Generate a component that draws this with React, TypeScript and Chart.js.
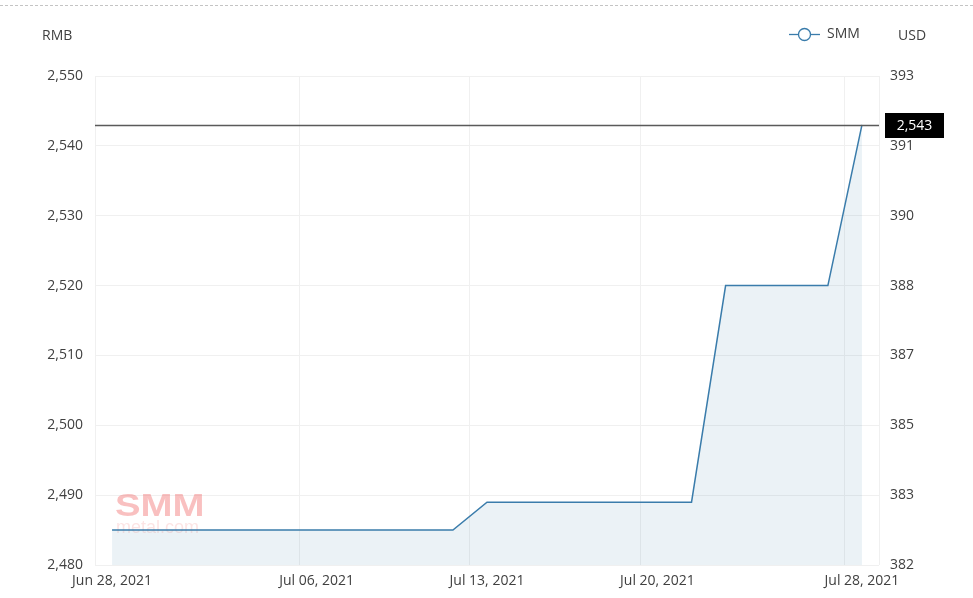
import React, { useEffect, useRef } from "react";
import { Chart, registerables } from "chart.js";

Chart.register(...registerables);

const categories = [
  "Jun 28, 2021", "Jun 29, 2021", "Jun 30, 2021", "Jul 01, 2021", "Jul 02, 2021",
  "Jul 05, 2021", "Jul 06, 2021", "Jul 07, 2021", "Jul 08, 2021", "Jul 09, 2021",
  "Jul 12, 2021", "Jul 13, 2021", "Jul 14, 2021", "Jul 15, 2021", "Jul 16, 2021",
  "Jul 19, 2021", "Jul 20, 2021", "Jul 21, 2021", "Jul 22, 2021", "Jul 23, 2021",
  "Jul 26, 2021", "Jul 27, 2021", "Jul 28, 2021",
];
const smmValues = [
  2485, 2485, 2485, 2485, 2485, 2485, 2485, 2485, 2485, 2485, 2485,
  2489, 2489, 2489, 2489, 2489, 2489, 2489,
  2520, 2520, 2520, 2520,
  2543,
];
const labelledIdx = [0, 6, 11, 16, 22];
const rmbTicks = [2480, 2490, 2500, 2510, 2520, 2530, 2540, 2550];
const usdTicks = ["382", "383", "385", "387", "388", "390", "391", "393"];
const lastValue = 2543;

const FONT = "'Open Sans', 'Noto Sans', sans-serif";
const LINE = "#3a7cab";
const TEXT = "#404040";

const decor = {
  id: "decor",
  beforeDatasetsDraw(chart: any) {
    const { ctx, chartArea } = chart;
    // watermark
    ctx.save();
    const wx = chartArea.left + 20;
    const by = chartArea.bottom - 49;
    ctx.fillStyle = "rgba(238,90,90,0.38)";
    ctx.font = `900 32px 'Liberation Sans', sans-serif`;
    ctx.textBaseline = "alphabetic";
    ctx.translate(wx, by);
    ctx.scale(1.2, 1);
    ctx.fillText("SMM", 0, 0);
    ctx.restore();
    ctx.save();
    ctx.fillStyle = "rgba(238,120,120,0.2)";
    ctx.font = `18px 'Liberation Sans', sans-serif`;
    ctx.textBaseline = "alphabetic";
    ctx.fillText("metal.com", wx + 1, by + 17);
    ctx.restore();
  },
  afterDatasetsDraw(chart: any) {
    const { ctx, chartArea } = chart;
    const y = chart.scales.y;
    const py = Math.round(y.getPixelForValue(lastValue)) + 0.5;
    ctx.save();
    ctx.strokeStyle = "#5a5a5a";
    ctx.lineWidth = 1.5;
    ctx.beginPath();
    ctx.moveTo(chartArea.left, py);
    ctx.lineTo(chartArea.right, py);
    ctx.stroke();
    // value box
    const bx = chartArea.right + 6;
    ctx.fillStyle = "#000";
    ctx.fillRect(bx, py - 12.5, 59, 25);
    ctx.fillStyle = "#fff";
    ctx.font = `14px ${FONT}`;
    ctx.textAlign = "center";
    ctx.textBaseline = "middle";
    ctx.fillText(lastValue.toLocaleString("en-US"), bx + 29.5, py + 0.5);
    ctx.restore();
  },
  afterDraw(chart: any) {
    const { ctx, width } = chart;
    ctx.save();
    // dashed top rule
    ctx.strokeStyle = "#c4c4c4";
    ctx.lineWidth = 1;
    ctx.setLineDash([3, 2]);
    ctx.beginPath();
    ctx.moveTo(0, 5.5);
    ctx.lineTo(width, 5.5);
    ctx.stroke();
    ctx.setLineDash([]);
    // unit titles
    ctx.fillStyle = TEXT;
    ctx.font = `14px ${FONT}`;
    ctx.textBaseline = "middle";
    ctx.textAlign = "left";
    ctx.fillText("RMB", 42, 36);
    ctx.fillText("USD", 898, 36);
    // legend
    ctx.strokeStyle = LINE;
    ctx.lineWidth = 1.3;
    ctx.beginPath();
    ctx.moveTo(789, 34.5);
    ctx.lineTo(820, 34.5);
    ctx.stroke();
    ctx.fillStyle = "#fff";
    ctx.beginPath();
    ctx.arc(804.5, 34.5, 6, 0, Math.PI * 2);
    ctx.fill();
    ctx.stroke();
    ctx.fillStyle = TEXT;
    ctx.fillText("SMM", 827, 34);
    ctx.restore();
  },
};

export default function App() {
  const ref = useRef<HTMLCanvasElement>(null);
  useEffect(() => {
    if (!ref.current) return;
    const gridIdx = [-0.5, ...labelledIdx.filter((i) => i > 0).map((i) => i - 0.5), categories.length - 0.5];
    const chart = new Chart(ref.current, {
      type: "line",
      data: {
        datasets: [
          {
            label: "SMM",
            data: smmValues.map((v, i) => ({ x: i, y: v })),
            borderColor: LINE,
            borderWidth: 1.5,
            backgroundColor: "rgba(58,124,171,0.1)",
            fill: "start",
            pointRadius: 0,
            tension: 0,
          },
        ],
      },
      options: {
        animation: false,
        responsive: true,
        maintainAspectRatio: false,
        layout: { padding: { top: 76, left: 0, right: 0, bottom: 0 } },
        plugins: { legend: { display: false }, tooltip: { enabled: false } },
        scales: {
          x: {
            type: "linear",
            position: "bottom",
            min: -0.5,
            max: categories.length - 0.5,
            afterBuildTicks: (axis: any) => {
              axis.ticks = labelledIdx.map((v) => ({ value: v }));
            },
            afterFit: (axis: any) => {
              axis.height = 33;
            },
            ticks: {
              autoSkip: false,
              maxRotation: 0,
              padding: 8,
              color: TEXT,
              font: { family: FONT, size: 14 },
              callback: (v: any) => categories[v as number] ?? "",
            },
            grid: { display: false, drawTicks: false },
            border: { display: false },
          },
          xg: {
            type: "linear",
            position: "bottom",
            min: -0.5,
            max: categories.length - 0.5,
            afterBuildTicks: (axis: any) => {
              axis.ticks = gridIdx.map((v) => ({ value: v }));
            },
            afterFit: (axis: any) => {
              axis.height = 0;
            },
            ticks: { display: false },
            grid: { color: "#f0f0f0", lineWidth: 1, drawTicks: false },
            border: { display: false },
          },
          y: {
            type: "linear",
            position: "left",
            min: rmbTicks[0],
            max: rmbTicks[rmbTicks.length - 1],
            afterBuildTicks: (axis: any) => {
              axis.ticks = rmbTicks.map((v) => ({ value: v }));
            },
            afterFit: (axis: any) => {
              axis.width = 95;
            },
            ticks: {
              padding: 12,
              color: TEXT,
              font: { family: FONT, size: 14 },
              callback: (v: any) => Number(v).toLocaleString("en-US"),
            },
            grid: { color: "#f0f0f0", drawTicks: false },
            border: { display: false },
          },
          y2: {
            type: "linear",
            position: "right",
            min: rmbTicks[0],
            max: rmbTicks[rmbTicks.length - 1],
            afterBuildTicks: (axis: any) => {
              axis.ticks = rmbTicks.map((v) => ({ value: v }));
            },
            afterFit: (axis: any) => {
              axis.width = 94;
            },
            ticks: {
              padding: 11,
              color: TEXT,
              font: { family: FONT, size: 14 },
              callback: (_v: any, i: number) => usdTicks[i],
            },
            grid: { display: false, drawTicks: false },
            border: { display: false },
          },
        },
      },
      plugins: [decor],
    });
    return () => chart.destroy();
  }, []);
  return (
    <div style={{ position: "fixed", left: 0, top: 0, width: 973, height: 598, background: "#fff" }}>
      <canvas ref={ref} />
    </div>
  );
}
